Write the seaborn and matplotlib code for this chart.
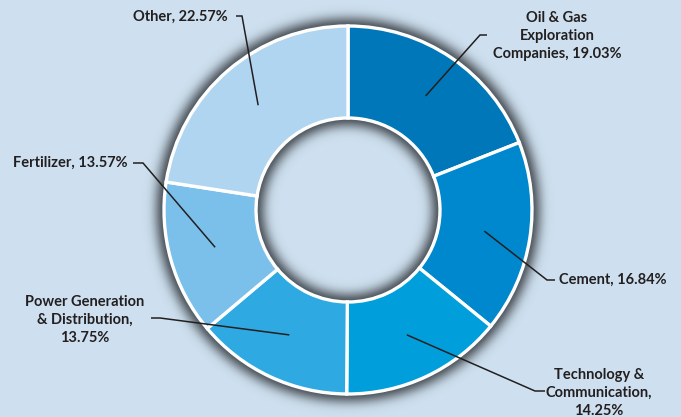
import numpy as np
import matplotlib
matplotlib.use("Agg")
import matplotlib.pyplot as plt
import seaborn as sns

# Portfolio allocation by sector (clockwise from 12 o'clock)
sectors = ["Oil & Gas\nExploration\nCompanies", "Cement", "Technology &\nCommunication",
           "Power Generation\n& Distribution", "Fertilizer", "Other"]
shares = [19.03, 16.84, 14.25, 13.75, 13.57, 22.57]
separators = [", ", ", ", ",\n", ",\n", ", ", ", "]
colors = ["#0077B8", "#0088CF", "#009EDB", "#2EA9E2", "#7AC0EA", "#B0D5F0"]

# Label layout: elbow of the leader line, end of its short tail, text anchor (pixels)
elbows = [(480, 35), (547, 280), (535, 391), (160, 318), (143, 163), (242, 16)]
tails = [(487, 35), (555, 280), (545, 391), (151, 318), (133, 163), (236, 16)]
text_pos = [(557, 36), (559, 280), (599, 393), (85, 320), (128, 163), (228, 17)]
text_align = ["center", "left", "center", "center", "right", "right"]

BG = "#CEE0EF"
INK = "#231F20"
W, H = 681, 417
CX, CY, R = 348, 210, 184  # pie centre and outer radius in pixels

sns.set_theme(style="white")
plt.rcParams["font.family"] = ["Lato", "DejaVu Sans"]

fig = plt.figure(figsize=(W / 100, H / 100), dpi=100, facecolor=BG)
ax = fig.add_axes([0, 0, 1, 1])
ax.set_facecolor(BG)


def px(x, y):
    return (x - CX) / R, (CY - y) / R


x0, y1 = px(0, 0)
x1, y0 = px(W, H)

# soft drop shadow around the ring and inside the hole
gx, gy = np.meshgrid(np.linspace(x0, x1, W * 2), np.linspace(y1, y0, H * 2))
rr = np.hypot(gx, gy)
sig = 10 / R
alpha = np.zeros_like(rr)
out = rr >= 1
alpha[out] = np.exp(-((rr[out] - 1) / sig) ** 2)
alpha[(rr >= 0.5) & (rr < 1)] = 1.0
hole = rr < 0.5
alpha[hole] = np.exp(-((0.5 - rr[hole]) / sig) ** 2)
shadow = np.zeros(rr.shape + (4,))
shadow[..., :3] = np.array([0x3a, 0x40, 0x46]) / 255
shadow[..., 3] = 0.85 * alpha
ax.imshow(shadow, extent=(x0, x1, y0, y1), zorder=0, interpolation="bilinear")

palette = sns.color_palette(colors)
wedges, _ = ax.pie(shares, colors=palette, startangle=90, counterclock=False, radius=1,
                   wedgeprops=dict(width=0.5, edgecolor="white", linewidth=2.4))

for w, name, val, sep, el, tl, tp, ha in zip(wedges, sectors, shares, separators,
                                                elbows, tails, text_pos, text_align):
    mid = np.deg2rad((w.theta1 + w.theta2) / 2)
    ax_, ay_ = 0.75 * np.cos(mid), 0.75 * np.sin(mid)
    ex, ey = px(*el)
    tx, ty = px(*tl)
    ax.plot([ax_, ex, tx], [ay_, ey, ty], color=INK, lw=1.1, zorder=3,
            solid_capstyle="butt", solid_joinstyle="miter")
    lx, ly = px(*tp)
    ax.text(lx, ly, f"{name}{sep}{val:.2f}%", ha=ha, va="center", multialignment="center",
            fontsize=10.5, fontweight="bold", color=INK, linespacing=1.4, zorder=4)

ax.set_xlim(x0, x1)
ax.set_ylim(y0, y1)
ax.set_aspect("auto")
ax.axis("off")

fig.savefig("out.png", dpi=100, facecolor=BG)
